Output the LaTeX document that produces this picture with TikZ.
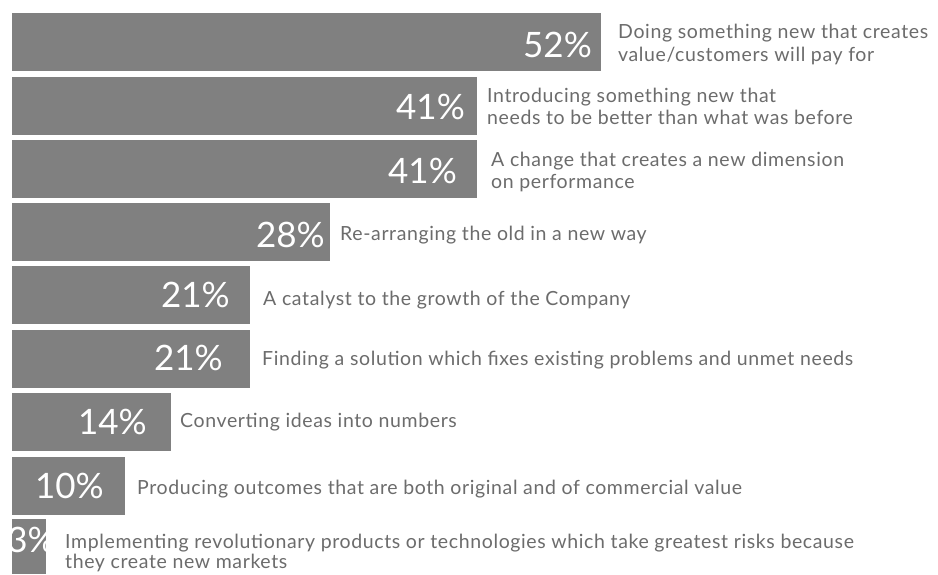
\documentclass[tikz,border=0pt]{standalone}
\usepackage{fontspec}
\setmainfont{Lato}
\newfontfamily\labfont[LetterSpace=3.2]{Lato}
\definecolor{barcol}{RGB}{128,128,128}
\definecolor{txtcol}{RGB}{108,108,108}
\begin{document}
\begin{tikzpicture}[x=1pt,y=-1pt,
  bar/.style={fill=barcol,draw=none,anchor=north west,inner sep=0pt,minimum height=58pt},
  pct/.style={anchor=base east,inner sep=0pt,text=white,font=\fontsize{35}{35}\selectfont},
  lab/.style={anchor=base west,inner sep=0pt,text=txtcol,font=\labfont\fontsize{19.5}{23}\selectfont}]
\useasboundingbox[fill=white] (0,0) rectangle (938,574);
% bars
\node[bar,minimum width=589pt] (b1) at (12,13) {};
\node[bar,minimum width=465pt] (b2) at (12,77) {};
\node[bar,minimum width=465pt] (b3) at (12,140) {};
\node[bar,minimum width=318pt] (b4) at (12,203) {};
\node[bar,minimum width=238pt] (b5) at (12,266) {};
\node[bar,minimum width=238pt] (b6) at (12,330) {};
\node[bar,minimum width=159pt] (b7) at (12,393) {};
\node[bar,minimum width=113pt] (b8) at (12,457) {};
\node[bar,minimum width=34pt,minimum height=55pt] (b9) at (12,519) {};
% percentages
\node[pct] (p1) at (592,57) {52\%};
\node[pct] (p2) at (465,119) {41\%};
\node[pct] (p3) at (457,183) {41\%};
\node[pct] (p4) at (325,247) {28\%};
\node[pct] (p5) at (230,307) {21\%};
\node[pct] (p6) at (223,370) {21\%};
\node[pct] (p7) at (147,434) {14\%};
\node[pct] (p8) at (104,498) {10\%};
\begin{scope}
\clip (b9.north west) rectangle (b9.south east);
\node[pct] (p9) at (56,552) {3\%};
\end{scope}
% labels
\node[lab] (l1a) at (618,38) {Doing something new that creates};
\node[lab] (l1b) at (618,61) {value/customers will pay for};
\node[lab] (l2a) at (487,102) {Introducing something new that};
\node[lab] (l2b) at (487,124) {needs to be better than what was before};
\node[lab] (l3a) at (491,166) {A change that creates a new dimension};
\node[lab] (l3b) at (491,188) {on performance};
\node[lab] (l4) at (340,240) {Re-arranging the old in a new way};
\node[lab] (l5) at (263,305) {A catalyst to the growth of the Company};
\node[lab] (l6) at (262,365) {Finding a solution which fixes existing problems and unmet needs};
\node[lab] (l7) at (180,427) {Converting ideas into numbers};
\node[lab] (l8) at (137,494) {Producing outcomes that are both original and of commercial value};
\node[lab] (l9a) at (65,548) {Implementing revolutionary products or technologies which take greatest risks because};
\node[lab] (l9b) at (65,568) {they create new markets};
\end{tikzpicture}
\end{document}
